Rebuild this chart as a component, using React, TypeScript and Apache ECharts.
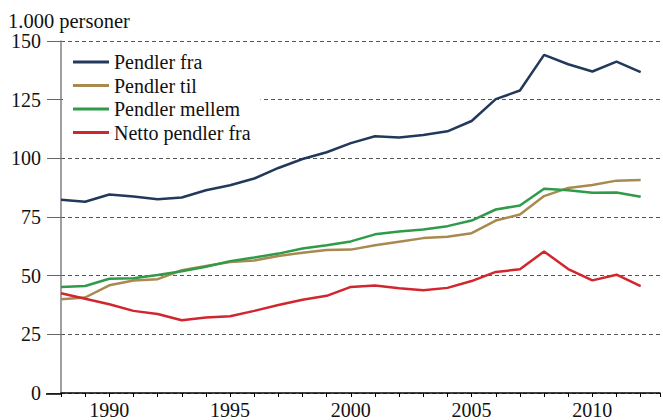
import React, { useEffect, useRef } from "react";
import * as echarts from "echarts";

const years = [1988,1989,1990,1991,1992,1993,1994,1995,1996,1997,1998,1999,2000,2001,2002,2003,2004,2005,2006,2007,2008,2009,2010,2011,2012];
const pendlerFra = [82.4,81.5,84.6,83.7,82.6,83.3,86.4,88.5,91.4,95.9,99.7,102.6,106.5,109.4,108.9,109.9,111.5,115.9,125.2,128.9,144.1,140.1,137.0,141.2,136.7];
const pendlerTil = [40.0,40.7,45.9,47.9,48.5,52.3,54.1,55.8,56.5,58.4,59.8,60.9,61.1,63.0,64.5,66.0,66.6,68.1,73.5,76.1,83.9,87.4,88.6,90.5,90.8];
const pendlerMellem = [45.2,45.6,48.7,48.9,50.3,51.9,53.8,56.2,57.7,59.4,61.6,63.0,64.6,67.6,68.8,69.7,71.1,73.5,78.2,79.9,87.0,86.4,85.3,85.4,83.6];
const nettoFra = [42.5,40.2,37.8,35.0,33.7,31.0,32.2,32.7,35.0,37.5,39.7,41.4,45.2,45.8,44.6,43.8,44.8,47.7,51.6,52.7,60.3,52.8,48.0,50.4,45.5];

const seriesNames = ["Pendler fra", "Pendler til", "Pendler mellem", "Netto pendler fra"];
const seriesColors = ["#22395c", "#a8894f", "#2f9b48", "#d2262e"];
const seriesData = [pendlerFra, pendlerTil, pendlerMellem, nettoFra];
const yTitle = "1.000 personer";

const FONT = "Liberation Serif";
const FS = 20;

export default function App() {
  const ref = useRef<HTMLDivElement>(null);
  useEffect(() => {
    if (!ref.current) return;
    const chart = echarts.init(ref.current, null, { renderer: "svg" });
    chart.setOption({
      animation: false,
      backgroundColor: "#ffffff",
      textStyle: { fontFamily: FONT },
      grid: { left: 61, right: 0, top: 41, bottom: 26, containLabel: false },
      legend: {
        orient: "vertical",
        left: 63,
        top: 47,
        padding: [5, 10, 5, 10],
        backgroundColor: "#ffffff",
        itemWidth: 36,
        itemHeight: 3,
        itemGap: 3.5,
        itemTextGap: 8,
        icon: "rect",
        textStyle: { fontFamily: FONT, fontSize: FS, lineHeight: 20, color: "#111" },
        data: seriesNames,
      },
      xAxis: {
        type: "value",
        min: 1988,
        max: 2012.8,
        interval: 1,
        axisLine: { show: true, lineStyle: { color: "#000", width: 1.5 } },
        axisTick: { show: true, length: 4, lineStyle: { color: "#000", width: 1 } },
        axisLabel: {
          margin: 7,
          fontFamily: FONT,
          fontSize: FS,
          color: "#111",
          formatter: (v: number) => (Math.abs(v % 5) < 1e-6 ? String(v) : ""),
        },
        splitLine: { show: false },
      },
      yAxis: {
        type: "value",
        min: 0,
        max: 150,
        interval: 25,
        axisLine: { show: true, lineStyle: { color: "#808080", width: 1.5 } },
        axisTick: { show: true, length: 14, lineStyle: { color: "#666", width: 1 } },
        axisLabel: { margin: 20, fontFamily: FONT, fontSize: FS, color: "#111" },
        splitLine: { show: true, lineStyle: { color: "#555", type: [4, 3], width: 1 } },
      },
      graphic: [
        {
          type: "text",
          left: 8,
          top: 10,
          style: { text: yTitle, fontFamily: FONT, fontSize: 20.5, fill: "#111" },
        },
        {
          type: "line",
          shape: { x1: 46, y1: 394, x2: 62, y2: 394 },
          style: { stroke: "#000", lineWidth: 1.5 },
          z: 10,
        },
      ],
      series: seriesNames.map((name, i) => ({
        name,
        type: "line",
        symbol: "none",
        data: years.map((y, j) => [y, seriesData[i][j]]),
        lineStyle: { color: seriesColors[i], width: 2.5 },
        itemStyle: { color: seriesColors[i] },
        z: 2,
      })),
    });
    return () => chart.dispose();
  }, []);
  return (
    <div
      ref={ref}
      style={{ position: "fixed", left: 0, top: 0, width: 663, height: 420, background: "#fff" }}
    />
  );
}
